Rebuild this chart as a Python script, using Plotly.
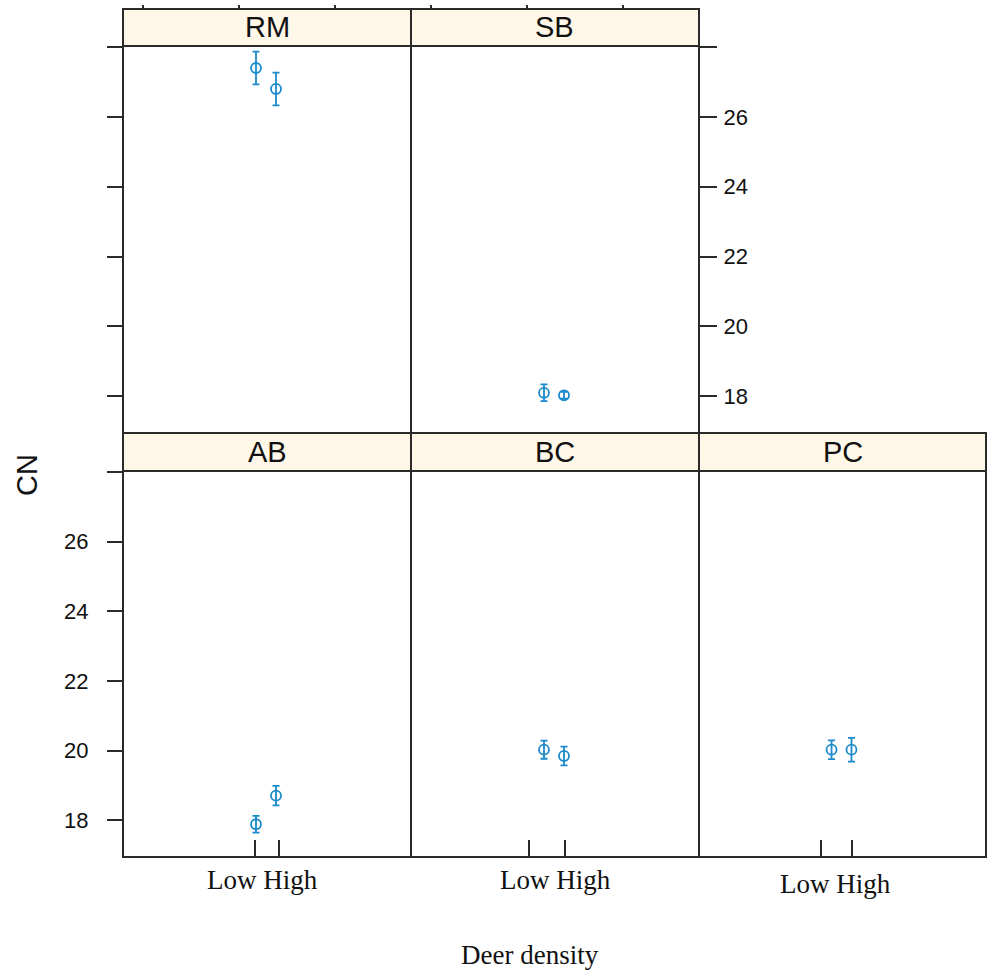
import plotly.graph_objects as go

# ---------------- data ----------------
panels = ["RM", "SB", "AB", "BC", "PC"]
density = ["Low", "High"]
cn_mean = {
    "RM": [27.40, 26.80],
    "SB": [18.10, 18.03],
    "AB": [17.89, 18.71],
    "BC": [20.03, 19.85],
    "PC": [20.03, 20.03],
}
cn_err = {
    "RM": [0.47, 0.47],
    "SB": [0.24, 0.10],
    "AB": [0.24, 0.28],
    "BC": [0.26, 0.27],
    "PC": [0.27, 0.34],
}
y_ticks = [18, 20, 22, 24, 26, 28]
y_ticktext = ["18", "20", "22", "24", "26", ""]
x_label_text = "Low High"
x_title = "Deer density"
y_title = "CN"

# ---------------- layout geometry ----------------
W, H = 987, 972
def fx(px):
    return px / W
def fy(px):
    return 1 - px / H

cols = [(fx(123), fx(411)), (fx(411), fx(699)), (fx(699), fx(986))]
row_top = (fy(433), fy(46))
row_bot = (fy(857), fy(471))
strip_top = (fy(46), fy(9))
strip_bot = (fy(471), fy(433))

placement = {"RM": (0, "top"), "SB": (1, "top"), "AB": (0, "bot"), "BC": (1, "bot"), "PC": (2, "bot")}
bottom_ticks = {"AB": [-0.05, 1.15], "BC": [-0.75, 1.05], "PC": [-0.55, 1.05]}
label_pos = {"AB": (0.483, 880), "BC": (0.503, 880), "PC": (0.476, 884)}

COL = "#1b8bcb"
LINE = "#2b2b2b"
STRIP = "#fff8e8"
LW = 2
xr = [-6.65, 7.75]
yr = [16.95, 28.03]

fig = go.Figure()
layout = dict(width=W, height=H, margin=dict(l=0, r=0, t=0, b=0),
              paper_bgcolor="white", plot_bgcolor="white", showlegend=False,
              shapes=[], annotations=[])

for i, p in enumerate(panels):
    n = i + 1
    xa = "x" if n == 1 else f"x{n}"
    ya = "y" if n == 1 else f"y{n}"
    fig.add_trace(go.Scatter(
        x=density, y=cn_mean[p], xaxis=xa, yaxis=ya, mode="markers",
        marker=dict(symbol="circle-open", size=10, color=COL, line=dict(width=1.8, color=COL)),
        error_y=dict(type="data", array=cn_err[p], color=COL, thickness=1.8, width=3.5),
        hoverinfo="skip"))
    ci, row = placement[p]
    xdom = cols[ci]
    ydom = row_top if row == "top" else row_bot
    sdom = strip_top if row == "top" else strip_bot
    xkey = "xaxis" if n == 1 else f"xaxis{n}"
    ykey = "yaxis" if n == 1 else f"yaxis{n}"
    xaxis = dict(domain=list(xdom), anchor=ya, type="category", categoryarray=density,
                 range=xr, showgrid=False, zeroline=False, showline=False, fixedrange=True)
    if row == "bot":
        xaxis.update(tickmode="array", tickvals=bottom_ticks[p], ticktext=["", ""],
                     ticks="inside", ticklen=17, tickwidth=LW, tickcolor=LINE)
    else:
        xaxis.update(showticklabels=False, ticks="")
    yaxis = dict(domain=list(ydom), anchor=xa, range=yr, showgrid=False, zeroline=False,
                 showline=False, tickmode="array", tickvals=y_ticks, ticktext=y_ticktext,
                 tickfont=dict(family="Liberation Sans, Arial", size=22, color="#111"),
                 tickcolor=LINE, tickwidth=LW, fixedrange=True)
    if p == "RM":
        yaxis.update(ticks="outside", ticklen=15, showticklabels=False)
    elif p == "SB":
        yaxis.update(side="right", ticks="outside", ticklen=17, ticklabelstandoff=2)
    elif p == "AB":
        yaxis.update(ticks="outside", ticklen=15, ticklabelstandoff=14)
    else:
        yaxis.update(ticks="", showticklabels=False)
    layout[xkey] = xaxis
    layout[ykey] = yaxis

    # panel border
    layout["shapes"].append(dict(type="rect", xref=f"{xa} domain", yref=f"{ya} domain",
                                 x0=0, x1=1, y0=0, y1=1, line=dict(color=LINE, width=LW),
                                 fillcolor="rgba(0,0,0,0)", layer="above"))
    # strip
    layout["shapes"].append(dict(type="rect", xref="paper", yref="paper",
                                 x0=xdom[0], x1=xdom[1], y0=sdom[0], y1=sdom[1],
                                 fillcolor=STRIP, line=dict(color=LINE, width=LW), layer="below"))
    layout["annotations"].append(dict(text=p, xref="paper", yref="paper",
                                      x=(xdom[0] + xdom[1]) / 2, y=(sdom[0] + sdom[1]) / 2,
                                      showarrow=False, xanchor="center", yanchor="middle",
                                      font=dict(family="Liberation Sans, Arial", size=29, color="#111")))
    if row == "bot":
        fxp, ypx = label_pos[p]
        layout["annotations"].append(dict(text=x_label_text, xref=f"{xa} domain", yref="paper",
                                          x=fxp, y=fy(ypx), showarrow=False,
                                          xanchor="center", yanchor="middle",
                                          font=dict(family="Liberation Serif, Times New Roman", size=27, color="#111")))

# small ticks along the top of the upper strips
top_tick_fracs = [0.07, 0.403, 0.736]
for k, (base, col) in enumerate([("x", cols[0]), ("x2", cols[1])]):
    n = 6 + k
    layout[f"xaxis{n}"] = dict(domain=list(col), overlaying=base, side="top", anchor="free",
                               position=fy(9), range=[0, 1], tickmode="array",
                               tickvals=top_tick_fracs, ticks="outside", ticklen=4,
                               tickwidth=1.5, tickcolor=LINE, showticklabels=False,
                               showline=False, showgrid=False, zeroline=False, fixedrange=True)
    fig.add_trace(go.Scatter(x=[None], y=[None], xaxis=f"x{n}", yaxis="y" if k == 0 else "y2",
                             mode="markers", hoverinfo="skip"))

layout["annotations"].append(dict(text=x_title, xref="paper", yref="paper", x=fx(530), y=fy(955),
                                  showarrow=False, xanchor="center", yanchor="middle",
                                  font=dict(family="Liberation Serif, Times New Roman", size=27, color="#111")))
layout["annotations"].append(dict(text=y_title, xref="paper", yref="paper", x=fx(27), y=fy(475),
                                  showarrow=False, xanchor="center", yanchor="middle", textangle=-90,
                                  font=dict(family="Liberation Sans, Arial", size=29, color="#111")))

fig.update_layout(**layout)
fig.write_html("out.html", config={"displayModeBar": False},
               post_script="document.body.style.margin='0px';document.body.style.overflow='hidden';")
